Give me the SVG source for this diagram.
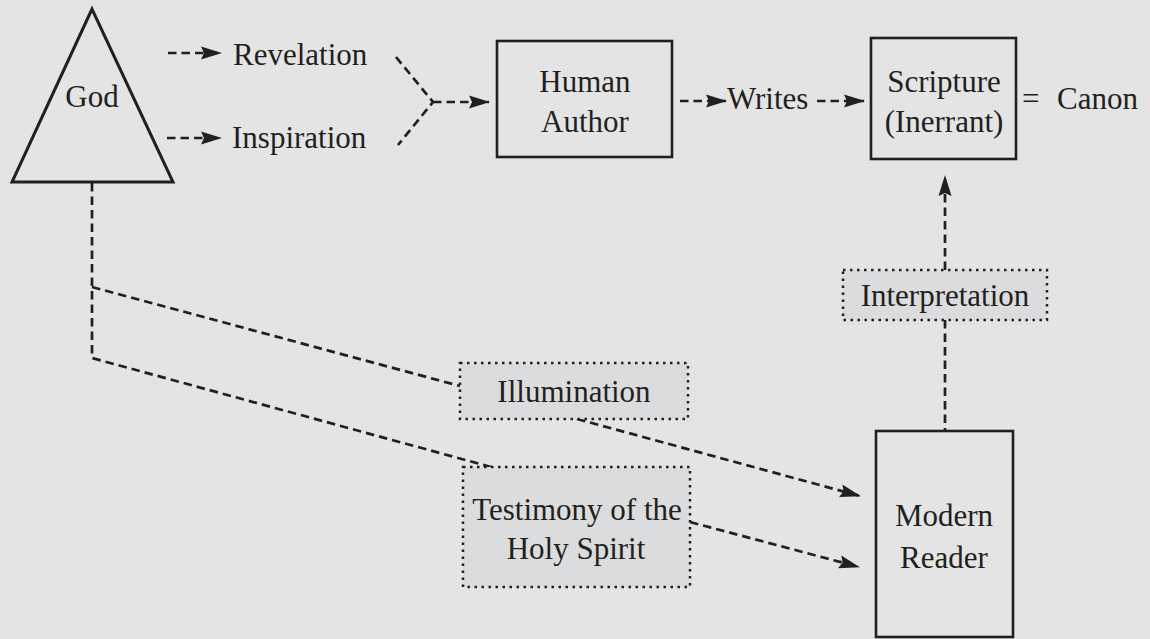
<svg xmlns="http://www.w3.org/2000/svg" width="1150" height="639" viewBox="0 0 1150 639">
  <style>
    .t { font-family: "Liberation Serif", "Times New Roman", serif; font-size: 31px; fill: #231f20; }
    .c { text-anchor: middle; }
    .box { fill: none; stroke: #231f20; stroke-width: 2.6; }
    .dot { fill: #dbdcde; stroke: #231f20; stroke-width: 2.5; stroke-dasharray: 2.5 4.5; }
    .dash { fill: none; stroke: #231f20; stroke-width: 2.7; stroke-dasharray: 8.5 5; }
    .arr { marker-end: url(#ah); }
  </style>
  <defs>
    <marker id="ah" viewBox="0 0 21 14" refX="20" refY="7" markerWidth="21" markerHeight="14" markerUnits="userSpaceOnUse" orient="auto">
      <path d="M0,0.5 L21,7 L0,13.5 L3,7 Z" fill="#231f20"/>
    </marker>
  </defs>
  <rect x="0" y="0" width="1150" height="639" fill="#e3e4e3"/>

  <g id="connectors">
    <line class="dash arr" x1="168" y1="53" x2="221" y2="53"/>
    <line class="dash arr" x1="167" y1="138" x2="221" y2="138"/>
    <path class="dash" d="M396,57 L433,102 L398,145"/>
    <line class="dash arr" x1="433" y1="102" x2="489" y2="102"/>
    <line class="dash arr" x1="680" y1="101" x2="726" y2="101"/>
    <line class="dash arr" x1="817" y1="101" x2="864" y2="101"/>
    <line class="dash arr" x1="945" y1="270" x2="945" y2="176"/>
    <line class="dash" x1="945" y1="320" x2="945" y2="431"/>
    <path class="dash" d="M92,183 V358 L491,467"/>
    <path class="dash" d="M92,287 L460,386"/>
    <line class="dash arr" x1="577" y1="419" x2="860" y2="496"/>
    <line class="dash arr" x1="690" y1="522" x2="859" y2="567"/>
  </g>

  <g id="god">
    <polygon points="92,9 12,182 173,182" fill="none" stroke="#231f20" stroke-width="3"/>
    <text class="t c" x="92" y="107">God</text>
  </g>
  <g id="revelation">
    <text class="t" x="233" y="65">Revelation</text>
  </g>
  <g id="inspiration">
    <text class="t" x="232" y="148">Inspiration</text>
  </g>
  <g id="human-author">
    <rect class="box" x="497" y="41" width="175" height="116"/>
    <text class="t c" x="585" y="92">Human</text>
    <text class="t c" x="585" y="132">Author</text>
  </g>
  <g id="writes">
    <text class="t" x="727" y="109">Writes</text>
  </g>
  <g id="scripture">
    <rect class="box" x="871" y="38" width="145" height="121"/>
    <text class="t c" x="944" y="92">Scripture</text>
    <text class="t c" x="944" y="132">(Inerrant)</text>
  </g>
  <g id="canon">
    <text class="t" x="1022" y="109">= <tspan x="1057">Canon</tspan></text>
  </g>
  <g id="interpretation">
    <rect class="dot" x="843" y="270" width="204" height="50"/>
    <text class="t c" x="945" y="306">Interpretation</text>
  </g>
  <g id="illumination">
    <rect class="dot" x="460" y="363" width="228" height="56"/>
    <text class="t c" x="574" y="402">Illumination</text>
  </g>
  <g id="testimony">
    <rect class="dot" x="463" y="467" width="227" height="120"/>
    <text class="t c" x="577" y="520">Testimony of the</text>
    <text class="t c" x="576" y="559">Holy Spirit</text>
  </g>
  <g id="modern-reader">
    <rect class="box" x="876" y="431" width="137" height="206"/>
    <text class="t c" x="944" y="526">Modern</text>
    <text class="t c" x="944" y="568">Reader</text>
  </g>
</svg>
